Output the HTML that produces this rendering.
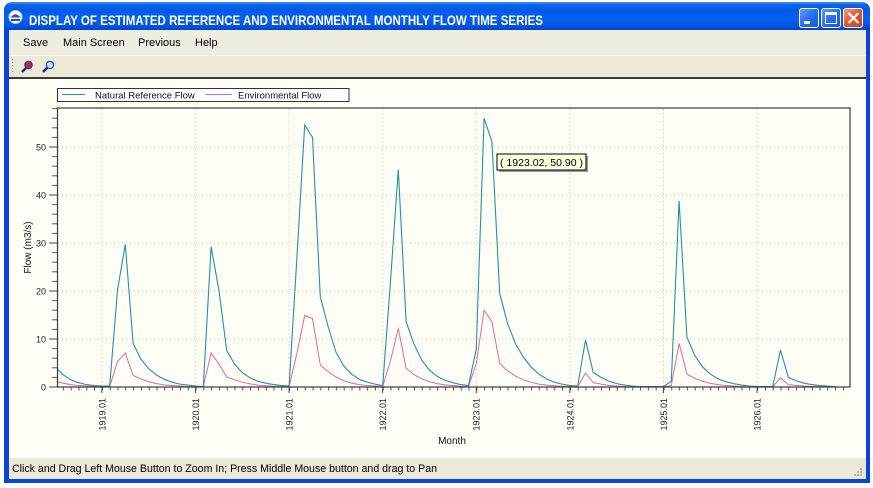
<!DOCTYPE html>
<html><head><meta charset="utf-8">
<style>
html,body{margin:0;padding:0;background:#fff;width:873px;height:488px;overflow:hidden;font-family:"Liberation Sans",sans-serif;}
.abs{position:absolute;}
#frame{left:4px;top:2px;width:866px;height:481px;background:#0b44d8;border-radius:8px 8px 0 0;}
#title{left:4px;top:2px;width:866px;height:28px;border-radius:8px 8px 0 0;
background:linear-gradient(to bottom,#4a95f7 0%,#0c63ec 10%,#0059e8 30%,#0760f2 60%,#0454e2 85%,#0044c6 100%);}
#client{left:9px;top:30px;width:857px;height:449px;background:#ece9d8;}
#menubar{left:9px;top:30px;width:857px;height:25px;background:#efece0;border-bottom:1px solid #f8f7f1;}
#toolbar{left:9px;top:56px;width:857px;height:21px;background:#ece9d8;}
#panel{left:9px;top:77px;width:857px;height:380px;background:#fefef7;border-top:2px solid #3a3a3a;border-bottom:1px solid #555;}
#status{left:9px;top:458px;width:857px;height:21px;background:#ece9d8;}
.menu{position:absolute;top:37px;font-size:11px;color:#000;}
.btn{position:absolute;top:8px;width:20px;height:20px;border:1px solid #fff;border-radius:3px;box-sizing:border-box;
background:linear-gradient(135deg,#5d9bf8 0%,#2a6ef0 50%,#1b56d8 100%);}
</style></head><body>
<div id="frame" class="abs"></div>
<div id="title" class="abs"></div>
<div id="client" class="abs"></div>
<div id="menubar" class="abs"></div>
<div id="toolbar" class="abs"></div>
<div id="panel" class="abs"></div>
<div id="status" class="abs"></div>

<div class="menu" style="left:23px">Save</div>
<div class="menu" style="left:63px">Main Screen</div>
<div class="menu" style="left:138px">Previous</div>
<div class="menu" style="left:195px">Help</div>

<div class="btn" style="left:799px"><div class="abs" style="left:4px;top:12px;width:6px;height:3px;background:#fff"></div></div>
<div class="btn" style="left:821px"><div class="abs" style="left:3px;top:3px;width:12px;height:12px;border:1px solid #fff;border-top-width:3px;box-sizing:border-box"></div></div>
<div class="btn" style="left:843px;background:linear-gradient(135deg,#f0a080 0%,#e0582c 50%,#c8401c 100%)"></div>

<svg class="abs" style="left:0;top:0" width="873" height="488" xmlns="http://www.w3.org/2000/svg">
<defs>
<clipPath id="pc"><rect x="58" y="108" width="792" height="279.5"/></clipPath>
<pattern id="tx" patternUnits="userSpaceOnUse" x="55.1" y="387" width="7.8" height="4"><rect x="0" y="0" width="1" height="3.5" fill="#555"/></pattern>
<pattern id="ty" patternUnits="userSpaceOnUse" x="52" y="386.5" width="6" height="9.6"><rect x="0" y="0" width="5" height="1" fill="#555"/></pattern>
</defs>

<!-- close X -->
<path d="M848.5 13 L858.5 23 M858.5 13 L848.5 23" stroke="#fff" stroke-width="2.2"/>
<!-- title icon -->
<circle cx="15.5" cy="17" r="6.5" fill="#fff" stroke="#b8c8e8" stroke-width="1"/>
<path d="M10.5 17.5 Q15.5 11 20.5 17.5 Z" fill="#2a4ea8"/>
<rect x="11" y="19" width="9" height="2" fill="#2a4ea8"/>
<text x="29" y="25" font-family="Liberation Sans, sans-serif" font-weight="bold" font-size="14" fill="#fff" textLength="514" lengthAdjust="spacingAndGlyphs">DISPLAY OF ESTIMATED REFERENCE AND ENVIRONMENTAL MONTHLY FLOW TIME SERIES</text>

<!-- toolbar grip -->
<g fill="#888"><rect x="12" y="59" width="1" height="1"/><rect x="12" y="62" width="1" height="1"/><rect x="12" y="65" width="1" height="1"/><rect x="12" y="68" width="1" height="1"/><rect x="12" y="71" width="1" height="1"/></g>
<!-- magnifier icons -->
<g>
<line x1="22" y1="72" x2="27" y2="67" stroke="#1a2a80" stroke-width="2.5"/>
<circle cx="28.5" cy="65" r="3.6" fill="#b83030" stroke="#2a3a90" stroke-width="1.3"/>
<line x1="43" y1="72" x2="48" y2="67" stroke="#1a2a80" stroke-width="2.5"/>
<circle cx="50" cy="65" r="3.6" fill="#cfe0ff" stroke="#2a50b0" stroke-width="1.3"/>
</g>

<!-- legend -->
<rect x="57.5" y="88.5" width="291.5" height="13" fill="#fff" stroke="#333" stroke-width="1"/>
<line x1="62" y1="94.5" x2="85" y2="94.5" stroke="#259494" stroke-width="1"/>
<text x="95" y="98.5" font-size="9.5" fill="#111">Natural Reference Flow</text>
<line x1="205" y1="94.5" x2="232" y2="94.5" stroke="#e06b95" stroke-width="1"/>
<text x="238" y="98.5" font-size="9.5" fill="#111">Environmental Flow</text>

<!-- gridlines -->
<g stroke="#c4c4bc" stroke-width="1" stroke-dasharray="1 3">
<line x1="58" y1="339" x2="850" y2="339"/>
<line x1="58" y1="291" x2="850" y2="291"/>
<line x1="58" y1="243" x2="850" y2="243"/>
<line x1="58" y1="195" x2="850" y2="195"/>
<line x1="58" y1="147" x2="850" y2="147"/>
<line x1="101.9" y1="109" x2="101.9" y2="387"/>
<line x1="195.5" y1="109" x2="195.5" y2="387"/>
<line x1="289.1" y1="109" x2="289.1" y2="387"/>
<line x1="382.7" y1="109" x2="382.7" y2="387"/>
<line x1="476.3" y1="109" x2="476.3" y2="387"/>
<line x1="569.9" y1="109" x2="569.9" y2="387"/>
<line x1="663.5" y1="109" x2="663.5" y2="387"/>
<line x1="757.1" y1="109" x2="757.1" y2="387"/>
</g>

<!-- ticks -->
<rect x="58" y="387" width="792" height="4" fill="url(#tx)"/>
<rect x="52" y="108" width="5.5" height="280" fill="url(#ty)"/>
<g stroke="#444" stroke-width="1">
<line x1="49" y1="387" x2="57" y2="387"/>
<line x1="49" y1="339" x2="57" y2="339"/>
<line x1="49" y1="291" x2="57" y2="291"/>
<line x1="49" y1="243" x2="57" y2="243"/>
<line x1="49" y1="195" x2="57" y2="195"/>
<line x1="49" y1="147" x2="57" y2="147"/>
<line x1="101.9" y1="387" x2="101.9" y2="393"/>
<line x1="195.5" y1="387" x2="195.5" y2="393"/>
<line x1="289.1" y1="387" x2="289.1" y2="393"/>
<line x1="382.7" y1="387" x2="382.7" y2="393"/>
<line x1="476.3" y1="387" x2="476.3" y2="393"/>
<line x1="569.9" y1="387" x2="569.9" y2="393"/>
<line x1="663.5" y1="387" x2="663.5" y2="393"/>
<line x1="757.1" y1="387" x2="757.1" y2="393"/>
</g>

<!-- y labels -->
<g font-size="9" fill="#222" text-anchor="end">
<text x="46" y="390.5">0</text>
<text x="46" y="342.5">10</text>
<text x="46" y="294.5">20</text>
<text x="46" y="246.5">30</text>
<text x="46" y="198.5">40</text>
<text x="46" y="150.5">50</text>
</g>
<!-- x labels -->
<g font-size="9" fill="#222" text-anchor="end">
<text transform="translate(105.3,398) rotate(-90)">1919.01</text>
<text transform="translate(198.9,398) rotate(-90)">1920.01</text>
<text transform="translate(292.5,398) rotate(-90)">1921.01</text>
<text transform="translate(386.1,398) rotate(-90)">1922.01</text>
<text transform="translate(479.7,398) rotate(-90)">1923.01</text>
<text transform="translate(573.3,398) rotate(-90)">1924.01</text>
<text transform="translate(666.9,398) rotate(-90)">1925.01</text>
<text transform="translate(760.5,398) rotate(-90)">1926.01</text>
</g>
<text transform="translate(31,247.5) rotate(-90)" font-size="10" fill="#111" text-anchor="middle">Flow (m3/s)</text>
<text x="452" y="444" font-size="10" fill="#111" text-anchor="middle">Month</text>

<!-- series -->
<g clip-path="url(#pc)">
<g transform="translate(55.1,387) scale(7.8,-4.8)">
<polyline fill="none" stroke="#e06b95" stroke-width="1" vector-effect="non-scaling-stroke" points="0,1.2 1,0.8 2,0.5 3,0.3 4,0.2 5,0.1 6,0.1 7,0.1 8,5.3 9,7.1 10,2.4 11,1.7 12,1.1 13,0.7 14,0.45 15,0.3 16,0.2 17,0.1 18,0.1 19,0.05 20,7.1 21,4.8 22,2.1 23,1.5 24,1 25,0.65 26,0.4 27,0.25 28,0.15 29,0.1 30,0.05 31,7 32,14.9 33,14.3 34,4.6 35,3.2 36,2.1 37,1.3 38,0.8 39,0.5 40,0.3 41,0.2 42,0.1 43,5.5 44,12.2 45,3.9 46,2.6 47,1.7 48,1.1 49,0.7 50,0.45 51,0.3 52,0.15 53,0.1 54,4.9 55,16 56,13.6 57,4.9 58,3.4 59,2.3 60,1.5 61,1 62,0.6 63,0.4 64,0.25 65,0.15 66,0.1 67,0.05 68,2.9 69,0.9 70,0.6 71,0.35 72,0.2 73,0.1 74,0.05 75,0.05 76,0.05 77,0.05 78,0.05 79,0.3 80,9.1 81,2.7 82,1.8 83,1.2 84,0.75 85,0.5 86,0.3 87,0.2 88,0.1 89,0.05 90,0.05 91,0.05 92,0.05 93,1.9 94,0.5 95,0.35 96,0.2 97,0.12 98,0.08 99,0.05 100,0.03"/>
<polyline fill="none" stroke="#259494" stroke-width="1.1" vector-effect="non-scaling-stroke" points="0,4.2 1,2.6 2,1.5 3,0.9 4,0.5 5,0.3 6,0.2 7,0.2 8,20.2 9,29.7 10,9.1 11,5.8 12,3.8 13,2.5 14,1.6 15,1 16,0.6 17,0.4 18,0.2 19,0.1 20,29.2 21,20.2 22,7.6 23,4.8 24,3 25,1.9 26,1.2 27,0.8 28,0.5 29,0.3 30,0.2 31,27 32,54.6 33,52 34,18.8 35,12.6 36,7.3 37,4.4 38,2.7 39,1.6 40,1 41,0.6 42,0.3 43,22 44,45.3 45,13.6 46,9 47,5.6 48,3.5 49,2.2 50,1.4 51,0.9 52,0.5 53,0.3 54,8 55,56 56,51.1 57,19.5 58,13.3 59,9.1 60,6.3 61,4.2 62,2.7 63,1.7 64,1 65,0.6 66,0.3 67,0.2 68,9.8 69,3 70,2 71,1.2 72,0.7 73,0.4 74,0.2 75,0.1 76,0.1 77,0.1 78,0.1 79,1.2 80,38.8 81,10.4 82,6.6 83,4.2 84,2.7 85,1.7 86,1.1 87,0.7 88,0.4 89,0.2 90,0.1 91,0.1 92,0.1 93,7.7 94,2 95,1.3 96,0.8 97,0.5 98,0.3 99,0.2 100,0.1"/>
</g>
</g>

<!-- plot border -->
<rect x="57.5" y="108" width="792.5" height="279" fill="none" stroke="#3a3a3a" stroke-width="1.2"/>

<!-- tooltip -->
<rect x="499" y="156" width="89" height="16" fill="#9a9a9a"/>
<rect x="497" y="154" width="89" height="16" fill="#ffffe1" stroke="#000" stroke-width="1"/>
<text x="500" y="166" font-size="10" fill="#000" textLength="83" lengthAdjust="spacingAndGlyphs">( 1923.02, 50.90 )</text>

<!-- status -->
<text x="12" y="472" font-size="11" fill="#000" textLength="425" lengthAdjust="spacingAndGlyphs">Click and Drag Left Mouse Button to Zoom In; Press Middle Mouse button and drag to Pan</text>
<g fill="#b8b4a4"><rect x="860" y="468" width="2" height="2"/><rect x="857" y="471" width="2" height="2"/><rect x="860" y="471" width="2" height="2"/><rect x="854" y="474" width="2" height="2"/><rect x="857" y="474" width="2" height="2"/><rect x="860" y="474" width="2" height="2"/></g>
</svg>
</body></html>
